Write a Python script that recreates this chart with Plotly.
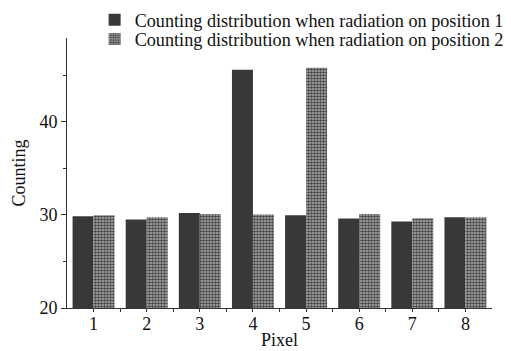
import plotly.graph_objects as go

pixels = [1, 2, 3, 4, 5, 6, 7, 8]
pos1 = [29.85, 29.5, 30.2, 45.6, 29.95, 29.6, 29.3, 29.75]
pos2 = [29.95, 29.75, 30.1, 30.05, 45.8, 30.1, 29.65, 29.75]
name1 = "Counting distribution when radiation on position 1"
name2 = "Counting distribution when radiation on position 2"

font = "Liberation Serif"

fig = go.Figure()
fig.add_trace(go.Bar(x=pixels, y=pos1, name=name1, legend="legend",
                     marker=dict(color="#383838", line=dict(width=0))))
fig.add_trace(go.Bar(x=pixels, y=pos2, name=name2, legend="legend2",
                     marker=dict(color="#8c8c8c", line=dict(width=0),
                                 pattern=dict(shape=".", fgcolor="#454545", bgcolor="#b4b4b4",
                                              fillmode="replace", size=3, solidity=0.6))))

leg_common = dict(x=0.065, xanchor="left", yanchor="middle", bgcolor="rgba(0,0,0,0)",
                  font=dict(family=font, size=18.2, color="#111"), itemwidth=30)

fig.update_layout(
    width=540, height=343,
    margin=dict(l=59, r=56, t=30, b=43, autoexpand=False),
    paper_bgcolor="white", plot_bgcolor="white",
    barmode="group", bargap=0.21, bargroupgap=0,
    font=dict(family=font, size=18, color="#111"),
    legend=dict(y=1.067, **leg_common),
    legend2=dict(y=0.996, **leg_common),
    showlegend=True,
)
fig.update_xaxes(range=[0.5, 8.5], tickvals=pixels, ticktext=[str(p) for p in pixels],
                 showline=True, linecolor="#333", linewidth=1, ticks="outside", ticklen=3, tickcolor="#333",
                 ticklabelstandoff=-4,
                 minor=dict(tickvals=[1.5, 2.5, 3.5, 4.5, 5.5, 6.5, 7.5], ticks="outside", ticklen=3, tickcolor="#333"),
                 showgrid=False, zeroline=False,
                 title=dict(text="Pixel", font=dict(family=font, size=18), standoff=0))
fig.update_yaxes(range=[20, 49], tickvals=[20, 30, 40],
                 showline=True, linecolor="#333", linewidth=1, ticks="outside", ticklen=5, tickcolor="#333",
                 minor=dict(tickvals=[25, 35, 45], ticks="outside", ticklen=3, tickcolor="#333"),
                 showgrid=False, zeroline=False,
                 title=dict(text="Counting", font=dict(family=font, size=18), standoff=9))

fig.write_html("out.html")
